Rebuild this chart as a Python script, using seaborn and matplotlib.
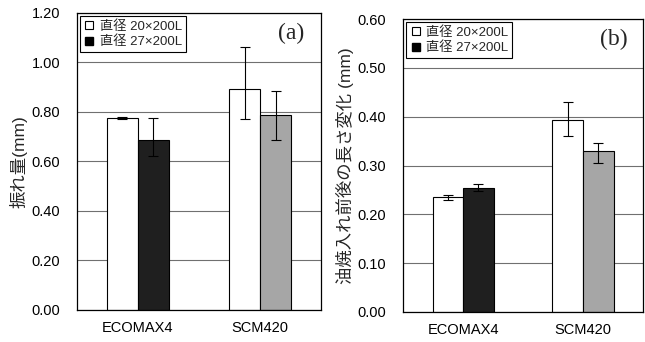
import numpy as np
import pandas as pd
import matplotlib
matplotlib.use("Agg")
import matplotlib.pyplot as plt
from matplotlib.lines import Line2D
from matplotlib.ticker import MultipleLocator, FixedLocator
import seaborn as sns

# data
categories = ["ECOMAX4", "SCM420"]
series = ["直径 20×200L", "直径 27×200L"]

# (a) runout
a_d20 = [0.775, 0.892]
a_d20_lo = [0.771, 0.771]
a_d20_hi = [0.779, 1.062]
a_d27 = [0.685, 0.786]
a_d27_lo = [0.623, 0.688]
a_d27_hi = [0.775, 0.886]

# (b) length change after oil quenching
b_d20 = [0.235, 0.394]
b_d20_lo = [0.230, 0.361]
b_d20_hi = [0.240, 0.431]
b_d27 = [0.254, 0.330]
b_d27_lo = [0.248, 0.305]
b_d27_hi = [0.262, 0.346]

# second series colour differs per material
d27_colors = ["#1f1f1f", "#a6a6a6"]

sns.set_style("white")
plt.rcParams["font.family"] = ["Liberation Sans", "Noto Sans CJK JP"]

fig = plt.figure(figsize=(6.45, 3.42), dpi=100)
ax_a = fig.add_axes([0.119, 0.094, 0.379, 0.868])
ax_b = fig.add_axes([0.625, 0.088, 0.372, 0.856])


def draw_panel(ax, d20, d20_lo, d20_hi, d27, d27_lo, d27_hi, ymax, step, ylabel, tag):
    df = pd.DataFrame({
        "cat": categories * 2,
        "series": [series[0]] * 2 + [series[1]] * 2,
        "val": list(d20) + list(d27),
    })
    sns.barplot(data=df, x="cat", y="val", hue="series", hue_order=series,
                order=categories, width=0.51, errorbar=None, legend=False,
                edgecolor="black", linewidth=0.8, saturation=1, ax=ax)
    bars = sorted(ax.patches, key=lambda p: p.get_x())
    vals = [d20[0], d27[0], d20[1], d27[1]]
    los = [d20_lo[0], d27_lo[0], d20_lo[1], d27_lo[1]]
    his = [d20_hi[0], d27_hi[0], d20_hi[1], d27_hi[1]]
    cols = ["white", d27_colors[0], "white", d27_colors[1]]
    for p, v, lo, hi, c in zip(bars, vals, los, his, cols):
        p.set_facecolor(c)
        xc = p.get_x() + p.get_width() / 2
        ax.errorbar(xc, v, yerr=[[v - lo], [hi - v]], fmt="none",
                    ecolor="black", elinewidth=0.8, capsize=3.5, capthick=0.8)

    ax.set_xlim(-0.5, 1.5)
    ax.set_ylim(0, ymax)
    ax.yaxis.set_major_locator(MultipleLocator(step))
    ax.yaxis.set_major_formatter(matplotlib.ticker.FormatStrFormatter("%.2f"))
    ax.set_axisbelow(True)
    ax.grid(axis="y", color="#707070", linewidth=0.8)
    ax.grid(axis="x", visible=False)
    for s in ax.spines.values():
        s.set_visible(True)
        s.set_color("black")
        s.set_linewidth(0.9)
    ax.tick_params(axis="y", length=0, pad=12, labelsize=10.5, colors="black")
    ax.tick_params(axis="x", which="major", length=0, pad=8, labelsize=10.5, colors="black")
    ax.xaxis.set_minor_locator(FixedLocator([0.5]))
    ax.tick_params(axis="x", which="minor", direction="in", length=3, color="#808080")
    ax.set_xlabel("")
    ax.set_ylabel(ylabel, fontsize=12.5, labelpad=3)

    handles = [
        Line2D([], [], linestyle="none", marker="s", markersize=5.5,
               markerfacecolor="white", markeredgecolor="black", markeredgewidth=0.8),
        Line2D([], [], linestyle="none", marker="s", markersize=5.5,
               markerfacecolor="black", markeredgecolor="black"),
    ]
    leg = ax.legend(handles, series, loc="upper left", fontsize=9.5,
                    frameon=True, fancybox=False, framealpha=1, edgecolor="black",
                    borderaxespad=0.25, handlelength=0.8, handletextpad=0.4,
                    labelspacing=0.2, borderpad=0.3)
    leg.get_frame().set_linewidth(0.8)
    ax.text(0.878, 0.93, tag, transform=ax.transAxes, ha="center", va="center",
            fontsize=17, family="Liberation Serif")


draw_panel(ax_a, a_d20, a_d20_lo, a_d20_hi, a_d27, a_d27_lo, a_d27_hi,
           1.2, 0.2, "振れ量(mm)", "(a)")
draw_panel(ax_b, b_d20, b_d20_lo, b_d20_hi, b_d27, b_d27_lo, b_d27_hi,
           0.6, 0.1, "油焼入れ前後の長さ変化 (mm)", "(b)")

fig.savefig("out.png", dpi=100)
